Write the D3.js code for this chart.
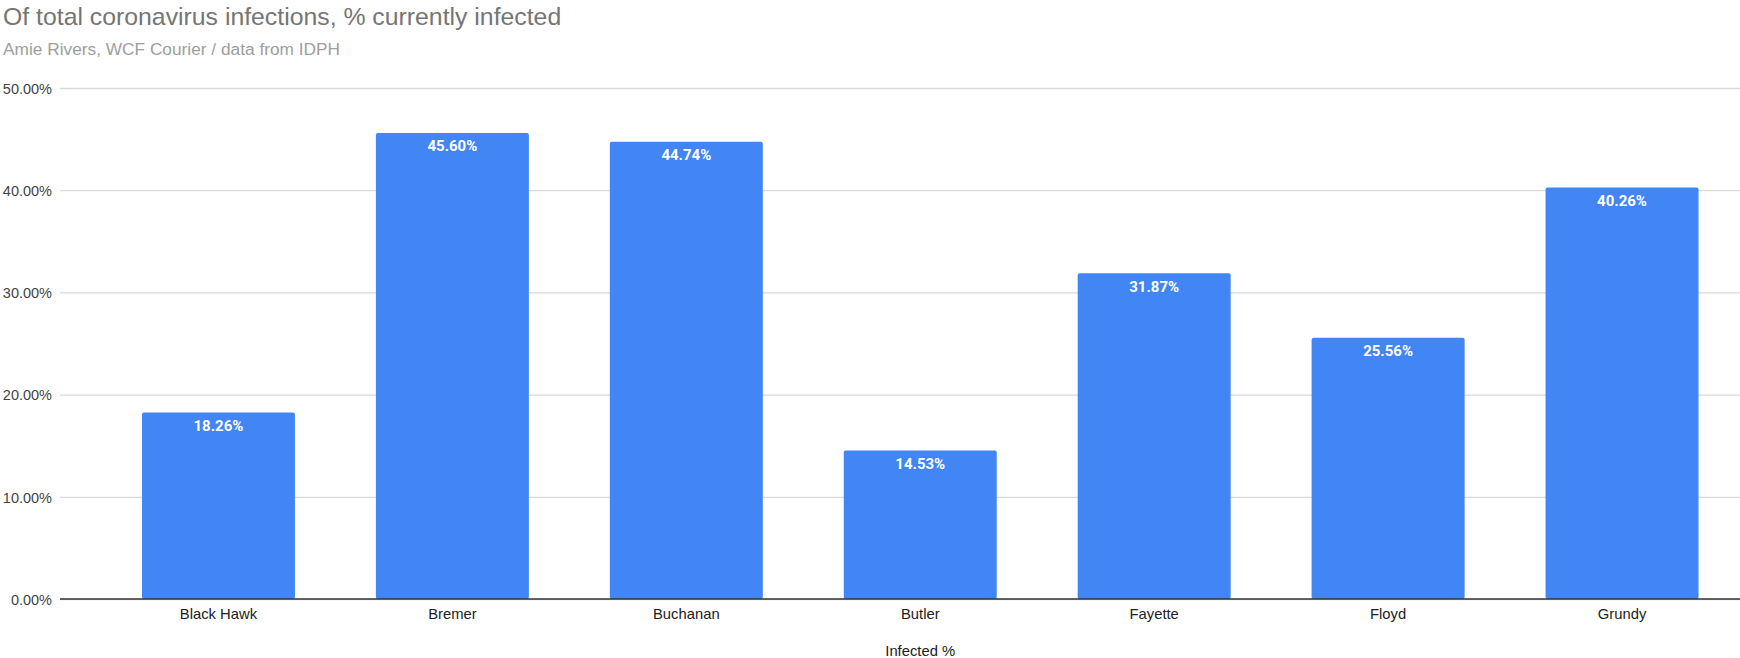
<!DOCTYPE html>
<html>
<head>
<meta charset="utf-8">
<script src="https://cdnjs.cloudflare.com/ajax/libs/d3/7.8.5/d3.min.js"></script>
<style>
  body { margin: 0; background: #fff; }
  svg { display: block; }
</style>
</head>
<body>
<svg id="chart" width="1740" height="658"></svg>
<script>
// chart data
var counties = ["Black Hawk", "Bremer", "Buchanan", "Butler", "Fayette", "Floyd", "Grundy"];
var infected = [18.26, 45.60, 44.74, 14.53, 31.87, 25.56, 40.26];
var yTicks = [0, 10, 20, 30, 40, 50];

var title = "Of total coronavirus infections, % currently infected";
var subtitle = "Amie Rivers, WCF Courier / data from IDPH";
var xTitle = "Infected %";

var svg = d3.select('#chart');

var plotLeft = 60, plotRight = 1740, plotTop = 88, plotBottom = 599;

var x = d3.scaleBand()
  .domain(counties)
  .range([101.5, 1739])
  .paddingInner(0.346)
  .paddingOuter(0.173);

var y = d3.scaleLinear()
  .domain([0, 50])
  .range([plotBottom, plotTop]);

// titles
svg.append('text')
  .attr('x', 3).attr('y', 25)
  .style('font-family', 'Liberation Sans, Arial, sans-serif')
  .style('font-size', '24.8px')
  .style('fill', '#757575')
  .text(title);

svg.append('text')
  .attr('x', 3).attr('y', 54.5)
  .style('font-family', 'Liberation Sans, Arial, sans-serif')
  .style('font-size', '17.3px')
  .style('fill', '#9e9e9e')
  .text(subtitle);

// gridlines + y labels
var yAxis = d3.axisLeft(y)
  .tickValues(yTicks)
  .tickSize(-(plotRight - plotLeft))
  .tickPadding(8)
  .tickFormat(d => d3.format('.2f')(d) + '%');

var gy = svg.append('g')
  .attr('transform', 'translate(' + plotLeft + ',0)')
  .call(yAxis);

gy.select('.domain').remove();
gy.selectAll('.tick line')
  .style('stroke', '#d9d9d9')
  .style('stroke-width', 1.3);
gy.selectAll('.tick text')
  .attr('dy', '0.36em')
  .style('font-family', 'Liberation Sans, Arial, sans-serif')
  .style('font-size', '14.5px')
  .style('fill', '#444');

// bars
var bars = svg.selectAll('g.bar')
  .data(counties)
  .enter()
  .append('g')
  .classed('bar', true);

bars.append('rect')
  .attr('x', d => x(d))
  .attr('y', (d, i) => y(infected[i]))
  .attr('width', x.bandwidth())
  .attr('height', (d, i) => y(0) - y(infected[i]))
  .attr('rx', 2)
  .style('fill', '#4285f4');

bars.append('text')
  .attr('x', d => x(d) + x.bandwidth() / 2)
  .attr('y', (d, i) => y(infected[i]) + 18.5)
  .attr('text-anchor', 'middle')
  .style('font-family', 'Roboto, sans-serif')
  .style('font-weight', 'bold')
  .style('font-size', '15px')
  .style('fill', '#fff')
  .text((d, i) => d3.format('.2f')(infected[i]) + '%');

// baseline
svg.append('line')
  .attr('x1', plotLeft).attr('x2', plotRight)
  .attr('y1', y(0)).attr('y2', y(0))
  .style('stroke', '#333')
  .style('stroke-width', 1.3);

// x labels
var xAxis = d3.axisBottom(x).tickSize(0).tickPadding(14);
var gx = svg.append('g')
  .attr('transform', 'translate(0,' + plotBottom + ')')
  .call(xAxis);
gx.select('.domain').remove();
gx.selectAll('.tick text')
  .attr('dy', 0)
  .attr('y', 20)
  .style('font-family', 'Liberation Sans, Arial, sans-serif')
  .style('font-size', '14.8px')
  .style('fill', '#222');

svg.append('text')
  .attr('x', (x.range()[0] + x.range()[1]) / 2)
  .attr('y', 656)
  .attr('text-anchor', 'middle')
  .style('font-family', 'Liberation Sans, Arial, sans-serif')
  .style('font-size', '14.8px')
  .style('fill', '#222')
  .text(xTitle);
</script>
</body>
</html>
